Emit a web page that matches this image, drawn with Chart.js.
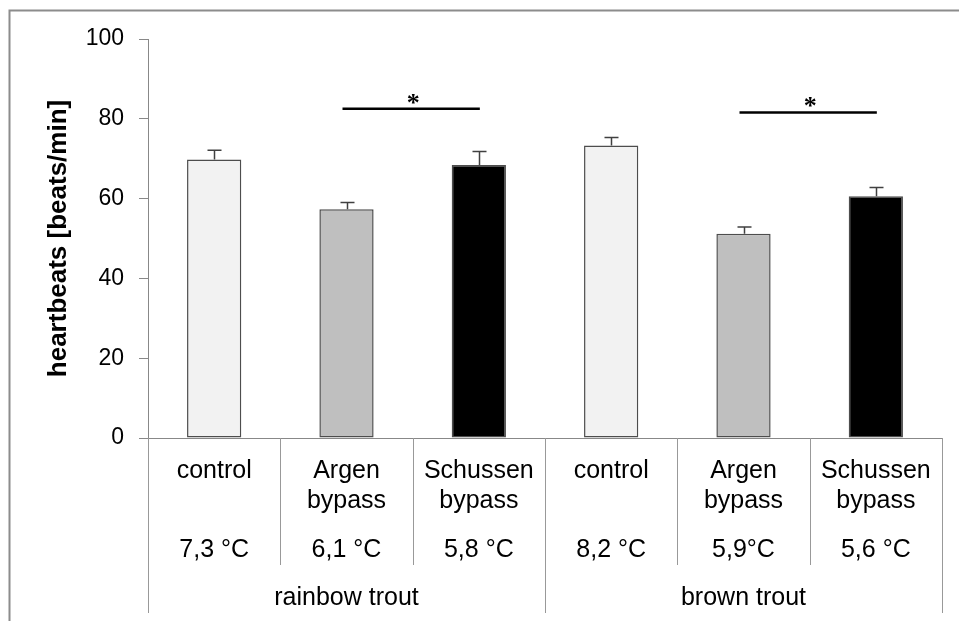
<!DOCTYPE html>
<html>
<head>
<meta charset="utf-8">
<script src="https://cdn.jsdelivr.net/npm/chart.js@4.4.1/dist/chart.umd.min.js"></script>
<style>
    html, body { margin: 0; padding: 0; background: #fff; }
    #wrap { width: 959px; height: 621px; }
</style>
</head>
<body>
<div id="wrap"><canvas id="heartChart" width="959" height="621"></canvas></div>
<script>
// heart rate per site, mean and standard error
const siteLabels = [['control'], ['Argen', 'bypass'], ['Schussen', 'bypass'],
                    ['control'], ['Argen', 'bypass'], ['Schussen', 'bypass']];
const siteTemps = ['7,3 °C', '6,1 °C', '5,8 °C', '8,2 °C', '5,9°C', '5,6 °C'];
const speciesLabels = ['rainbow trout', 'brown trout'];
const heartbeats = [69.8, 57.3, 68.4, 73.3, 51.2, 60.6];
const heartbeatsSE = [2.3, 1.7, 3.4, 2.0, 1.7, 2.2];
const yTicks = [0, 20, 40, 60, 80, 100];
// significant pairs: first bar, second bar, height of the bracket
const sigFrom = [1, 4];
const sigTo = [2, 5];
const sigLevel = [82.5, 81.6];

const fillColors = ['#f2f2f2', '#bfbfbf', '#000000', '#f2f2f2', '#bfbfbf', '#000000'];
const FONT = "'Liberation Sans', Arial, sans-serif";
const GRAY = '#888888';

// outer frame (only top and left edges are inside the canvas)
const framePlugin = {
    id: 'frame',
    beforeDraw(chart) {
        const ctx = chart.ctx;
        ctx.save();
        ctx.strokeStyle = '#8c8c8c';
        ctx.lineWidth = 2;
        ctx.beginPath();
        ctx.moveTo(9.5, chart.height + 2);
        ctx.lineTo(9.5, 10.5);
        ctx.lineTo(chart.width + 2, 10.5);
        ctx.stroke();
        ctx.restore();
    }
};

// upward error bars
const errorBarPlugin = {
    id: 'errorBars',
    afterDatasetsDraw(chart) {
        const ctx = chart.ctx;
        const y = chart.scales.y;
        const meta = chart.getDatasetMeta(0);
        ctx.save();
        ctx.strokeStyle = '#404040';
        ctx.lineWidth = 1.5;
        meta.data.forEach((bar, i) => {
            const top = y.getPixelForValue(heartbeats[i] + heartbeatsSE[i]);
            const x = Math.round(bar.x) + 0.5;
            ctx.beginPath();
            ctx.moveTo(x, bar.y);
            ctx.lineTo(x, top);
            ctx.moveTo(x - 7, top);
            ctx.lineTo(x + 7, top);
            ctx.stroke();
        });
        ctx.restore();
    }
};

// significance brackets with asterisk
const sigPlugin = {
    id: 'significance',
    afterDatasetsDraw(chart) {
        const ctx = chart.ctx;
        const x = chart.scales.x;
        const y = chart.scales.y;
        ctx.save();
        ctx.strokeStyle = '#000';
        ctx.fillStyle = '#000';
        ctx.lineWidth = 2.5;
        ctx.textAlign = 'center';
        ctx.textBaseline = 'alphabetic';
        ctx.font = "bold 26px 'Liberation Serif', serif";
        sigLevel.forEach((level, k) => {
            const x1 = x.getPixelForValue(sigFrom[k]) - 4;
            const x2 = x.getPixelForValue(sigTo[k]) + 1;
            const py = y.getPixelForValue(level);
            ctx.beginPath();
            ctx.moveTo(x1, py);
            ctx.lineTo(x2, py);
            ctx.stroke();
            ctx.fillText('*', (x1 + x2) / 2 + 2, py + 2);
        });
        ctx.restore();
    }
};

// category table below the axis: site names, temperatures, species
const tablePlugin = {
    id: 'categoryTable',
    afterDraw(chart) {
        const ctx = chart.ctx;
        const x = chart.scales.x;
        const axisY = chart.chartArea.bottom;
        const n = siteLabels.length;
        const step = x.width / n;
        const perGroup = n / speciesLabels.length;
        ctx.save();
        ctx.strokeStyle = '#999999';
        ctx.lineWidth = 1;
        for (let i = 0; i <= n; i++) {
            const bx = Math.round(x.left + i * step) + 0.5;
            const outer = i % perGroup === 0;
            ctx.beginPath();
            ctx.moveTo(bx, axisY);
            ctx.lineTo(bx, outer ? 613 : 565);
            ctx.stroke();
        }
        ctx.fillStyle = '#000';
        ctx.textAlign = 'center';
        ctx.textBaseline = 'alphabetic';
        ctx.font = '25px ' + FONT;
        siteLabels.forEach((lines, i) => {
            const cx = x.getPixelForValue(i);
            lines.forEach((t, j) => ctx.fillText(t, cx, axisY + 40 + j * 30));
            ctx.fillText(siteTemps[i], cx, axisY + 119);
        });
        speciesLabels.forEach((t, g) => {
            const cx = x.left + (g + 0.5) * perGroup * step;
            ctx.fillText(t, cx, axisY + 167);
        });
        ctx.restore();
    }
};

const ctx = document.getElementById('heartChart').getContext('2d');
new Chart(ctx, {
    type: 'bar',
    data: {
        labels: siteLabels,
        datasets: [{
            data: heartbeats,
            backgroundColor: fillColors,
            borderColor: '#4d4d4d',
            borderWidth: 1.5,
            borderSkipped: false,
            barPercentage: 0.41,
            categoryPercentage: 1
        }]
    },
    options: {
        responsive: false,
        animation: false,
        layout: {
            padding: { top: 39, right: 17, left: 0, bottom: 0 }
        },
        plugins: {
            legend: { display: false },
            tooltip: { enabled: false }
        },
        scales: {
            x: {
                ticks: { display: false },
                grid: { display: false },
                border: { color: GRAY, width: 1 },
                afterFit(scale) { scale.height = 183; }
            },
            y: {
                min: 0,
                max: 100,
                afterBuildTicks(scale) {
                    scale.ticks = yTicks.map(v => ({ value: v }));
                },
                ticks: {
                    color: '#000',
                    padding: 15,
                    font: { family: FONT, size: 23 }
                },
                grid: {
                    drawOnChartArea: false,
                    drawTicks: true,
                    tickLength: 9,
                    color: GRAY
                },
                border: { color: GRAY, width: 1 },
                title: {
                    display: true,
                    text: 'heartbeats [beats/min]',
                    color: '#000',
                    padding: { top: 43, bottom: 0 },
                    font: { family: FONT, size: 26, weight: 'bold' }
                },
                afterFit(scale) { scale.width = 148; }
            }
        }
    },
    plugins: [framePlugin, errorBarPlugin, sigPlugin, tablePlugin]
});
</script>
</body>
</html>
